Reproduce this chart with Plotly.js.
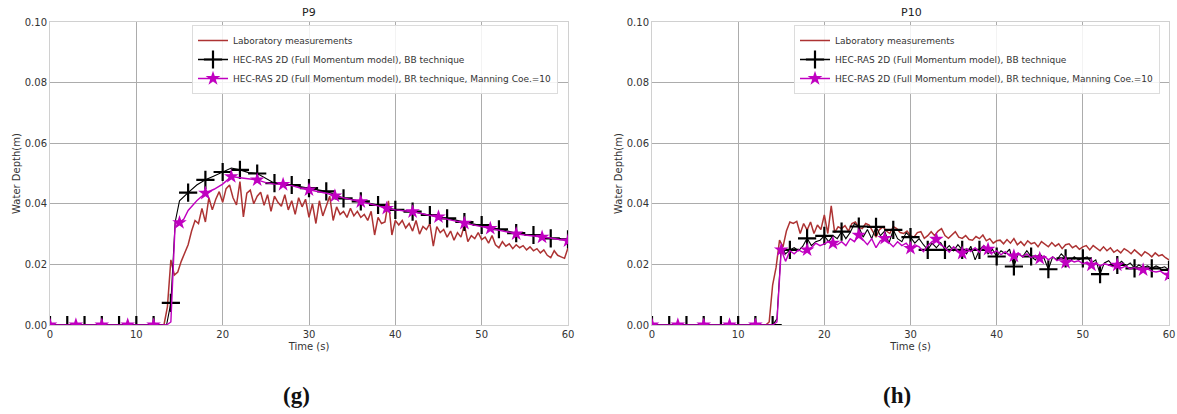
<!DOCTYPE html>
<html><head><meta charset="utf-8">
<script src="https://cdn.plot.ly/plotly-3.0.1.min.js"></script>
<style>html,body{margin:0;padding:0;background:#fff}#chart{width:1177px;height:414px}</style>
</head><body><div id="chart"></div>
<script>
// ---------- DATA ----------
const seriesNames = [
  'Laboratory measurements',
  'HEC-RAS 2D (Full Momentum model), BB technique',
  'HEC-RAS 2D (Full Momentum model), BR technique, Manning Coe.=10'
];
const panelTitles = ['P9', 'P10'];
const panelLetters = ['(g)', '(h)'];
const xTickVals = [0, 10, 20, 30, 40, 50, 60];
const yTickVals = [0.00, 0.02, 0.04, 0.06, 0.08, 0.10];

// laboratory time stamps (s), shared by both gauges
const labTime = [0, 13.2, 13.6,
  14.0, 14.4, 14.8, 15.2, 15.6,  16.0, 16.4, 16.8, 17.2, 17.6,
  18.0, 18.4, 18.8, 19.2, 19.6,  20.0, 20.4, 20.8, 21.2, 21.6,
  22.0, 22.4, 22.8, 23.2, 23.6,  24.0, 24.4, 24.8, 25.2, 25.6,
  26.0, 26.4, 26.8, 27.2, 27.6,  28.0, 28.4, 28.8, 29.2, 29.6,
  30.0, 30.4, 30.8, 31.2, 31.6,  32.0, 32.4, 32.8, 33.2, 33.6,
  34.0, 34.4, 34.8, 35.2, 35.6,  36.0, 36.4, 36.8, 37.2, 37.6,
  38.0, 38.4, 38.8, 39.2, 39.6,  40.0, 40.4, 40.8, 41.2, 41.6,
  42.0, 42.4, 42.8, 43.2, 43.6,  44.0, 44.4, 44.8, 45.2, 45.6,
  46.0, 46.4, 46.8, 47.2, 47.6,  48.0, 48.4, 48.8, 49.2, 49.6,
  50.0, 50.4, 50.8, 51.2, 51.6,  52.0, 52.4, 52.8, 53.2, 53.6,
  54.0, 54.4, 54.8, 55.2, 55.6,  56.0, 56.4, 56.8, 57.2, 57.6,
  58.0, 58.4, 58.8, 59.2, 59.6,  60.0];

const p9Lab = [0, 0.000, 0.006,
  0.0215, 0.0165, 0.0175, 0.021, 0.024,   0.0265, 0.031, 0.0345, 0.0335, 0.0385,
  0.034, 0.042, 0.038, 0.0415, 0.044,     0.0405, 0.045, 0.0462, 0.042, 0.0396,
  0.0473, 0.0357, 0.0435, 0.0445, 0.040,  0.0425, 0.0438, 0.0395, 0.043, 0.0375,
  0.0425, 0.0405, 0.0392, 0.043, 0.038,   0.041, 0.0365, 0.042, 0.039, 0.0415,
  0.0355, 0.040, 0.0335, 0.041, 0.036,    0.0395, 0.0425, 0.0345, 0.039, 0.0365,
  0.0375, 0.0355, 0.0385, 0.036, 0.0375,  0.0355, 0.0365, 0.0345, 0.0375, 0.0297,
  0.0355, 0.0335, 0.034, 0.041, 0.0297,   0.0345, 0.033, 0.0345, 0.032, 0.0335,
  0.031, 0.0345, 0.030, 0.0325, 0.0315,   0.0335, 0.026, 0.0325, 0.0305, 0.0315,
  0.029, 0.031, 0.028, 0.0305, 0.029,     0.033, 0.0275, 0.0295, 0.0285, 0.0305,
  0.0282, 0.029, 0.027, 0.0295, 0.0265,   0.0255, 0.0275, 0.026, 0.0268, 0.0252,
  0.0265, 0.0255, 0.0262, 0.0248, 0.0258, 0.0245, 0.0252, 0.0238, 0.0248, 0.023,
  0.0222, 0.0245, 0.023, 0.0225, 0.022,   0.0255];

const p10Lab = [0, 0.000, 0.001,
  0.0132, 0.019, 0.028, 0.0258, 0.031,    0.034, 0.0335, 0.0342, 0.0302, 0.0335,
  0.0313, 0.034, 0.0302, 0.033, 0.0315,   0.0363, 0.0302, 0.0393, 0.0305, 0.0324,
  0.0318, 0.0328, 0.031, 0.0335, 0.034,   0.0322, 0.0318, 0.0335, 0.033, 0.031,
  0.029, 0.0315, 0.0324, 0.031, 0.0302,   0.0325, 0.0318, 0.0305, 0.0302, 0.031,
  0.0295, 0.029, 0.0305, 0.0308, 0.0286,  0.0295, 0.0308, 0.0295, 0.031, 0.0318,
  0.0295, 0.0286, 0.0298, 0.0308, 0.029,  0.0286, 0.0295, 0.0282, 0.028, 0.0292,
  0.0285, 0.0297, 0.0278, 0.0285, 0.027,  0.0278, 0.028, 0.0268, 0.0282, 0.027,
  0.0285, 0.0265, 0.0275, 0.0262, 0.0278, 0.0268, 0.0272, 0.0258, 0.0275, 0.0265,
  0.0258, 0.0272, 0.026, 0.0268, 0.0252,  0.0265, 0.0268, 0.0255, 0.0262, 0.025,
  0.0258, 0.0262, 0.0248, 0.0262, 0.0252, 0.0245, 0.0258, 0.0245, 0.0255, 0.024,
  0.0248, 0.0238, 0.0252, 0.0245, 0.0235, 0.0248, 0.0238, 0.0228, 0.0242, 0.0235,
  0.0225, 0.0238, 0.0228, 0.0232, 0.0222, 0.0215];

// P9 model output times (s)
const p9ModelTime = [0, 1, 2, 3, 4, 5, 6, 7, 8, 9, 10, 11, 12, 13,
  13.5, 14, 14.5, 15, 15.5, 16,
  17, 18, 19, 20, 21, 22, 23, 24, 25, 26, 27, 28, 29, 30,
  31, 32, 33, 34, 35, 36, 37, 38, 39, 40, 41, 42, 43, 44, 45,
  46, 47, 48, 49, 50, 51, 52, 53, 54, 55, 56, 57, 58, 59, 60];
const p9BB = [0, 0, 0, 0, 0, 0, 0, 0, 0, 0, 0, 0, 0, 0,
  0, 0.0073, 0.034, 0.041, 0.0425, 0.0437,
  0.0462, 0.0479, 0.0492, 0.0505, 0.0518, 0.0512, 0.0503, 0.0500, 0.0485, 0.0468,
  0.0467, 0.0462, 0.0457, 0.0452, 0.0446, 0.0441, 0.0431, 0.0418, 0.0414, 0.0408,
  0.0402, 0.0396, 0.0387, 0.0380, 0.0377, 0.0374, 0.0368, 0.0363, 0.0357, 0.0352,
  0.0346, 0.0340, 0.0334, 0.0330, 0.0322, 0.0316, 0.0310, 0.0303, 0.0299, 0.0297,
  0.0291, 0.0286, 0.0284, 0.0283];
const p9BR = [0, 0, 0, 0, 0, 0, 0, 0, 0, 0, 0, 0, 0, 0,
  0, 0.001, 0.0336, 0.0338, 0.035, 0.0378,
  0.0410, 0.0435, 0.0448, 0.0465, 0.0490, 0.0486, 0.0483, 0.0479, 0.0470, 0.0465,
  0.0464, 0.0460, 0.0452, 0.0446, 0.0441, 0.0435, 0.0426, 0.0420, 0.0413, 0.0407,
  0.0400, 0.0393, 0.0385, 0.0380, 0.0377, 0.0374, 0.0368, 0.0362, 0.0357, 0.0351,
  0.0343, 0.0336, 0.0330, 0.0325, 0.0319, 0.0314, 0.0307, 0.0301, 0.0297, 0.0294,
  0.0290, 0.0287, 0.0282, 0.0278];

// P10 model output times (s)
const p10ModelTime = [0, 1, 2, 3, 4, 5, 6, 7, 8, 9, 10, 11, 12, 13, 14, 14.5,
  15, 15.5, 16, 16.5, 17, 17.5, 18, 18.5, 19, 19.5, 20, 20.5, 21, 21.5, 22, 22.5,
  23, 23.5, 24, 24.5, 25, 25.5, 26, 26.5, 27, 27.5, 28, 28.5, 29, 29.5, 30, 30.5,
  31, 31.5, 32, 32.5, 33, 33.5, 34, 34.5, 35, 35.5, 36, 36.5, 37, 37.5, 38, 38.5,
  39, 39.5, 40, 40.5, 41, 41.5, 42, 42.5, 43, 43.5, 44, 44.5, 45, 45.5, 46, 46.5,
  47, 47.5, 48, 48.5, 49, 49.5, 50, 50.5, 51, 51.5, 52, 52.5, 53, 53.5, 54, 54.5,
  55, 55.5, 56, 56.5, 57, 57.5, 58, 58.5, 59, 59.5, 60];
const p10BB = [0, 0, 0, 0, 0, 0, 0, 0, 0, 0, 0, 0, 0, 0, 0, 0.002,
  0.026, 0.0235,  0.0248, 0.0255,  0.0245, 0.026,  0.0286, 0.0262,  0.0275, 0.028,
  0.0294, 0.0275,  0.0295, 0.0285,  0.0308, 0.0285,  0.0305, 0.0335,  0.0325, 0.029,
  0.0315, 0.0285,  0.0324, 0.0295,  0.031, 0.027,  0.0314, 0.0285,  0.0275, 0.0305,
  0.029, 0.027,  0.0285, 0.0265,  0.0248, 0.027,  0.0255, 0.0272,  0.0248, 0.0262,
  0.0245, 0.0265,  0.0248, 0.0235,  0.026, 0.0215,  0.0248, 0.0262,  0.0235, 0.025,
  0.0226, 0.0245,  0.0235, 0.025,  0.0193, 0.0235,  0.0225, 0.0245,  0.0226, 0.0215,
  0.0235, 0.022,  0.0184, 0.0225,  0.0215, 0.0235,  0.022, 0.021,  0.0225, 0.0215,
  0.022, 0.0225,  0.0205, 0.0215,  0.0168, 0.0205,  0.0212, 0.0195,  0.0198, 0.021,
  0.0195, 0.0205,  0.0187, 0.0198,  0.019, 0.0195,  0.0187, 0.0195,  0.0188, 0.0192,
  0.0182];
const p10BR = [0, 0, 0, 0, 0, 0, 0, 0, 0, 0, 0, 0, 0, 0, 0, 0.001,
  0.0248, 0.021,  0.0245, 0.0235,  0.0248, 0.024,  0.0248, 0.0255,  0.027, 0.0262,
  0.0268, 0.0275,  0.027, 0.0265,  0.0275, 0.0262,  0.0285, 0.0275,  0.0297, 0.0282,
  0.0265, 0.0285,  0.0255, 0.0278,  0.0286, 0.0272,  0.0258, 0.0275,  0.0262, 0.027,
  0.0253, 0.0265,  0.0258, 0.0242,  0.0262, 0.0275,  0.0283, 0.0265,  0.0255, 0.024,
  0.0258, 0.0245,  0.0237, 0.0252,  0.0242, 0.0255,  0.024, 0.0262,  0.025, 0.0238,
  0.0245, 0.0232,  0.0242, 0.0228,  0.0228, 0.0238,  0.0225, 0.0235,  0.0222, 0.023,
  0.022, 0.0228,  0.0215, 0.0225,  0.0212, 0.022,  0.0206, 0.0215,  0.0208, 0.0212,
  0.0202, 0.0208,  0.0198, 0.0205,  0.0195, 0.0202,  0.0198, 0.0192,  0.0198, 0.0188,
  0.0195, 0.0185,  0.019, 0.0182,  0.0182, 0.0185,  0.0178, 0.0175,  0.0178, 0.0168,
  0.0165];

// ---------- STYLE ----------
const C_LAB = '#ad3333', C_BB = '#000000', C_BR = '#c000c0';
const FONT = 'DejaVu Sans, Verdana, sans-serif';

function pick(t, v, every) {
  const xs = [], ys = [];
  t.forEach((ti, i) => { if (Number.isInteger(ti) && ti % every === 0) { xs.push(ti); ys.push(v[i]); } });
  return {xs, ys};
}

function panel(k, labV, mT, bbV, brV) {
  const xa = k === 0 ? 'x' : 'x2', ya = k === 0 ? 'y' : 'y2', lg = k === 0 ? 'legend' : 'legend2';
  const bbM = pick(mT, bbV, 2), brM = pick(mT, brV, 3);
  const base = {xaxis: xa, yaxis: ya, hoverinfo: 'skip', cliponaxis: true};
  return [
    Object.assign({type: 'scatter', mode: 'lines', x: labTime, y: labV, line: {color: C_LAB, width: 1.5}, showlegend: false}, base),
    Object.assign({type: 'scatter', mode: 'lines', x: mT, y: bbV, line: {color: C_BB, width: 1.1}, showlegend: false}, base),
    Object.assign({type: 'scatter', mode: 'markers', x: bbM.xs, y: bbM.ys, marker: {symbol: 'cross-thin', size: 13, line: {color: C_BB, width: 2.2}}, showlegend: false}, base),
    Object.assign({type: 'scatter', mode: 'lines', x: mT, y: brV, line: {color: C_BR, width: 1.4}, showlegend: false}, base),
    Object.assign({type: 'scatter', mode: 'markers', x: brM.xs, y: brM.ys, marker: {symbol: 'star', size: 11, color: C_BR, line: {width: 0}}, showlegend: false}, base),
    // legend entries
    Object.assign({type: 'scatter', mode: 'lines', x: [null], y: [null], name: seriesNames[0], line: {color: C_LAB, width: 1.5}, legend: lg}, base),
    Object.assign({type: 'scatter', mode: 'lines+markers', x: [null], y: [null], name: seriesNames[1], line: {color: C_BB, width: 1.5}, marker: {symbol: 'cross-thin', size: 13, line: {color: C_BB, width: 2.2}}, legend: lg}, base),
    Object.assign({type: 'scatter', mode: 'lines+markers', x: [null], y: [null], name: seriesNames[2], line: {color: C_BR, width: 1.5}, marker: {symbol: 'star', size: 11, color: C_BR, line: {width: 0}}, legend: lg}, base)
  ];
}

const traces = [].concat(
  panel(0, p9Lab, p9ModelTime, p9BB, p9BR),
  panel(1, p10Lab, p10ModelTime, p10BB, p10BR)
);

const W = 1177, H = 414;
function axX(l, r, anchor) {
  return {domain: [l / W, r / W], range: [0, 60], anchor: anchor, tickvals: xTickVals,
    showgrid: true, gridcolor: '#acacac', gridwidth: 1, zeroline: false,
    showline: true, mirror: true, linecolor: '#d0d0d0', linewidth: 1, ticks: '',
    tickfont: {family: FONT, size: 10, color: '#333'},
    title: {text: 'Time (s)', font: {family: FONT, size: 10, color: '#333'}, standoff: 3},
    fixedrange: true};
}
function axY(anchor) {
  return {domain: [1 - 325 / H, 1 - 22 / H], range: [0, 0.1], anchor: anchor, tickvals: yTickVals,
    tickformat: '.2f', showgrid: true, gridcolor: '#acacac', gridwidth: 1, zeroline: false,
    showline: true, mirror: true, linecolor: '#d0d0d0', linewidth: 1, ticks: '',
    tickfont: {family: FONT, size: 10, color: '#333'},
    title: {text: 'Water Depth(m)', font: {family: FONT, size: 10, color: '#333'}, standoff: 2},
    fixedrange: true};
}
function legendAt(xpx) {
  return {x: xpx / W, y: 1 - 25 / H, xanchor: 'left', yanchor: 'top',
    bgcolor: 'rgba(255,255,255,0.85)', bordercolor: '#dcdcdc', borderwidth: 1,
    font: {family: FONT, size: 9, color: '#333'}, tracegroupgap: 0, itemwidth: 30};
}

const layout = {
  width: W, height: H, margin: {l: 0, r: 0, t: 0, b: 0},
  paper_bgcolor: '#fff', plot_bgcolor: '#fff', showlegend: true,
  xaxis: axX(50, 568, 'y'), yaxis: axY('x'),
  xaxis2: axX(652, 1169, 'y2'), yaxis2: axY('x2'),
  legend: legendAt(192), legend2: legendAt(794),
  annotations: [
    {text: panelTitles[0], x: 309 / W, y: 1 - 12 / H, xref: 'paper', yref: 'paper', showarrow: false, xanchor: 'center', yanchor: 'middle', font: {family: FONT, size: 11, color: '#222'}},
    {text: panelTitles[1], x: 911 / W, y: 1 - 12 / H, xref: 'paper', yref: 'paper', showarrow: false, xanchor: 'center', yanchor: 'middle', font: {family: FONT, size: 11, color: '#222'}},
    {text: '<b>' + panelLetters[0] + '</b>', x: 296 / W, y: 1 - 395 / H, xref: 'paper', yref: 'paper', showarrow: false, xanchor: 'center', yanchor: 'middle', font: {family: 'Liberation Serif, DejaVu Serif, serif', size: 23, color: '#111'}},
    {text: '<b>' + panelLetters[1] + '</b>', x: 897 / W, y: 1 - 395 / H, xref: 'paper', yref: 'paper', showarrow: false, xanchor: 'center', yanchor: 'middle', font: {family: 'Liberation Serif, DejaVu Serif, serif', size: 23, color: '#111'}}
  ]
};

Plotly.newPlot('chart', traces, layout, {displayModeBar: false, staticPlot: true});
</script>
</body></html>
